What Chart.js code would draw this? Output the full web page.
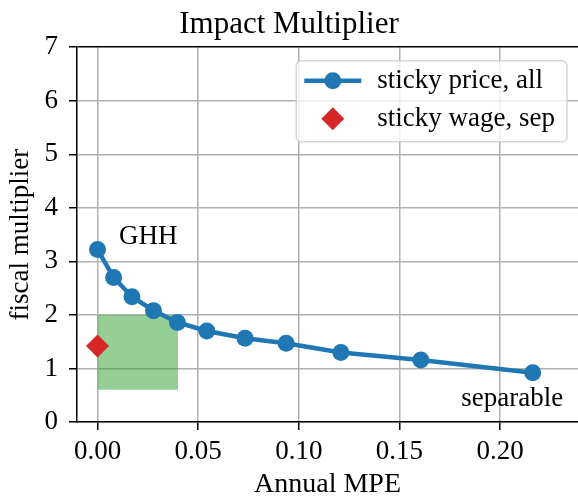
<!DOCTYPE html>
<html>
<head>
<meta charset="utf-8">
<script src="https://cdn.jsdelivr.net/npm/chart.js@4"></script>
<style>
  body { margin: 0; background: #fff; }
  canvas { display: block; }
</style>
</head>
<body>
<canvas id="chart" width="578" height="501"></canvas>
<script>
/* DATA */
const mpe = [0, 0.008, 0.0171, 0.0278, 0.0397, 0.0543, 0.0733, 0.0937, 0.1209, 0.1606, 0.2162];
const multiplier = [3.22, 2.70, 2.34, 2.08, 1.86, 1.70, 1.565, 1.47, 1.30, 1.16, 0.92];
const wageMpe = [0];
const wageMultiplier = [1.42];
const boxMpe = [0, 0.04];
const boxTop = [2.0, 2.0];
const boxBottom = 0.6;
const xTicks = [0, 0.05, 0.10, 0.15, 0.20];
const yTicks = [0, 1, 2, 3, 4, 5, 6, 7];
const seriesNames = ["sticky price, all", "sticky wage, sep"];
const notes = [
  { text: "GHH", x: 0.0252, y: 3.45 },
  { text: "separable", x: 0.206, y: 0.43 }
];

const FONT = "'Liberation Serif', 'Times New Roman', serif";
const BLUE = "#1f77b4", RED = "#d62728", GRID = "#b0b0b0";

Chart.defaults.font.family = FONT;
Chart.defaults.color = "#000";

/* PLUGINS */
const notesPlugin = {
  id: "notes",
  afterDatasetsDraw(chart) {
    const { ctx, scales } = chart;
    ctx.save();
    ctx.font = "27px " + FONT;
    ctx.fillStyle = "#000";
    ctx.textAlign = "center";
    ctx.textBaseline = "middle";
    notes.forEach(n => {
      ctx.fillText(n.text, scales.x.getPixelForValue(n.x), scales.y.getPixelForValue(n.y));
    });
    ctx.restore();
  }
};

const legendPlugin = {
  id: "boxLegend",
  afterDraw(chart) {
    const { ctx, chartArea } = chart;
    ctx.save();
    ctx.font = "27px " + FONT;
    const textW = Math.max(...seriesNames.map(s => ctx.measureText(s).width));
    const w = 8 + 57 + 16 + textW + 12, h = 81;
    const x0 = chartArea.right - 11 - w, y0 = chartArea.top + 13.5;

    ctx.beginPath();
    ctx.roundRect(x0, y0, w, h, 5);
    ctx.fillStyle = "rgba(255,255,255,0.8)";
    ctx.fill();
    ctx.strokeStyle = "rgba(204,204,204,0.8)";
    ctx.lineWidth = 1.5;
    ctx.stroke();

    const hx = x0 + 8, rows = [y0 + 20, y0 + 58];
    // line + marker
    ctx.strokeStyle = BLUE;
    ctx.lineWidth = 4.5;
    ctx.beginPath();
    ctx.moveTo(hx, rows[0]);
    ctx.lineTo(hx + 57, rows[0]);
    ctx.stroke();
    ctx.fillStyle = BLUE;
    ctx.beginPath();
    ctx.arc(hx + 28.5, rows[0], 8.5, 0, Math.PI * 2);
    ctx.fill();
    // diamond
    ctx.fillStyle = RED;
    ctx.beginPath();
    const cx = hx + 28.5, cy = rows[1], r = 11.5;
    ctx.moveTo(cx - r, cy); ctx.lineTo(cx, cy - r); ctx.lineTo(cx + r, cy); ctx.lineTo(cx, cy + r);
    ctx.closePath();
    ctx.fill();

    ctx.fillStyle = "#000";
    ctx.textBaseline = "middle";
    seriesNames.forEach((s, i) => ctx.fillText(s, hx + 57 + 16, rows[i]));
    ctx.restore();
  }
};

/* CHART */
new Chart(document.getElementById("chart"), {
  type: "line",
  data: {
    datasets: [
      {
        label: "box",
        data: boxMpe.map((x, i) => ({ x, y: boxTop[i] })),
        fill: { value: boxBottom },
        backgroundColor: "rgba(44,160,44,0.5)",
        borderWidth: 0,
        pointRadius: 0,
        order: 3
      },
      {
        label: seriesNames[0],
        data: mpe.map((x, i) => ({ x, y: multiplier[i] })),
        borderColor: BLUE,
        backgroundColor: BLUE,
        borderWidth: 4.5,
        pointRadius: 8.5,
        pointBorderWidth: 0,
        fill: false,
        order: 2
      },
      {
        label: seriesNames[1],
        data: wageMpe.map((x, i) => ({ x, y: wageMultiplier[i] })),
        showLine: false,
        pointStyle: "rectRot",
        pointRadius: 11.5,
        pointBorderWidth: 0,
        backgroundColor: RED,
        borderColor: RED,
        order: 1
      }
    ]
  },
  options: {
    responsive: false,
    animation: false,
    layout: { padding: 0, autoPadding: false },
    plugins: {
      legend: { display: false },
      tooltip: { enabled: false },
      title: {
        display: true,
        text: "Impact Multiplier",
        font: { size: 31, weight: "normal" },
        padding: { top: 6, bottom: 4 }
      }
    },
    scales: {
      x: {
        type: "linear",
        min: -0.0102,
        max: 0.2387,
        afterBuildTicks: s => { s.ticks = xTicks.map(v => ({ value: v })); },
        afterFit: s => { s.height = 79; s.paddingLeft = 0; s.paddingRight = 0; },
        ticks: {
          autoSkip: false, maxRotation: 0, padding: 8,
          font: { size: 27, lineHeight: 1 },
          callback: v => v.toFixed(2)
        },
        grid: { color: GRID, lineWidth: 1.5, tickLength: 8, tickColor: "#000", tickWidth: 1.5 },
        border: { color: "#000", width: 1.5 },
        title: { display: true, text: "Annual MPE", font: { size: 28 }, padding: { top: 0, bottom: 0 } }
      },
      y: {
        min: 0,
        max: 7,
        afterBuildTicks: s => { s.ticks = yTicks.map(v => ({ value: v })); },
        afterFit: s => { s.width = 77; },
        ticks: { padding: 11, font: { size: 27 } },
        grid: {
          color: c => (c.tick && c.tick.value === 7 ? "#000" : GRID),
          lineWidth: 1.5, tickLength: 8, tickColor: "#000", tickWidth: 1.5
        },
        border: { color: "#000", width: 1.5 },
        title: { display: true, text: "fiscal multiplier", font: { size: 27 }, padding: { top: 5, bottom: 0 } }
      }
    }
  },
  plugins: [notesPlugin, legendPlugin]
});
</script>
</body>
</html>
